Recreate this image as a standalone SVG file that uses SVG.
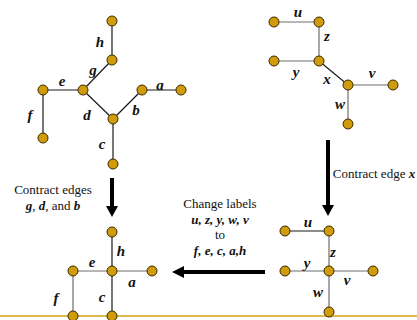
<svg xmlns="http://www.w3.org/2000/svg" width="417" height="320" viewBox="0 0 417 320">
<style>
.n{fill:#D19C0C;stroke:#3a2a00;stroke-width:1}
.eb{stroke:#1a1a1a;stroke-width:1.2;fill:none}
.eg{stroke:#6e6e6e;stroke-width:1.2;fill:none}
.l{font-family:'Liberation Serif','Times New Roman','DejaVu Serif',serif;font-size:15px;font-weight:bold;font-style:italic;text-anchor:middle;fill:#111}
.t{font-family:'Liberation Serif','Times New Roman','DejaVu Serif',serif;font-size:13px;text-anchor:middle;fill:#111}
.tb{font-weight:bold;font-style:italic}
.arr{stroke:#000;stroke-width:4;fill:none}
</style>
<rect width="417" height="320" fill="#fff"/>
<line x1="0" y1="316" x2="417" y2="316" stroke="#D4A017" stroke-width="1.5"/>
<g id="connectors">
<line class="eb" x1="112" y1="21" x2="112" y2="60"/>
<line class="eb" x1="112" y1="60" x2="83" y2="90"/>
<line class="eb" x1="43" y1="90" x2="83" y2="90"/>
<line class="eb" x1="43" y1="90" x2="43" y2="138"/>
<line class="eb" x1="83" y1="90" x2="113" y2="119"/>
<line class="eb" x1="113" y1="119" x2="142" y2="90"/>
<line class="eb" x1="142" y1="90" x2="181" y2="90"/>
<line class="eb" x1="113" y1="119" x2="113" y2="164"/>
<line class="eg" x1="274" y1="22" x2="319" y2="22"/>
<line class="eg" x1="319" y1="22" x2="319" y2="61"/>
<line class="eg" x1="274" y1="61" x2="319" y2="61"/>
<line class="eb" x1="319" y1="61" x2="348" y2="85"/>
<line class="eg" x1="348" y1="85" x2="393" y2="85"/>
<line class="eg" x1="348" y1="85" x2="348" y2="124"/>
<line class="eb" x1="112" y1="232" x2="112" y2="271"/>
<line class="eg" x1="73" y1="271" x2="152" y2="271"/>
<line class="eg" x1="73" y1="271" x2="73" y2="316"/>
<line class="eb" x1="112" y1="271" x2="112" y2="316"/>
<line class="eb" x1="285" y1="231" x2="329" y2="231"/>
<line class="eg" x1="329" y1="231" x2="329" y2="271"/>
<line class="eg" x1="285" y1="271" x2="373" y2="271"/>
<line class="eg" x1="329" y1="271" x2="329" y2="312"/>
<line class="arr" x1="112" y1="178" x2="112" y2="208"/>
<polygon points="106,206 118,206 112,217" fill="#000"/>
<line class="arr" x1="328" y1="140" x2="328" y2="207"/>
<polygon points="322,205 334,205 328,216" fill="#000"/>
<line class="arr" x1="265" y1="272" x2="182" y2="272"/>
<polygon points="184,266 184,278 172,272" fill="#000"/>
</g>
<g id="graph-top-left">
<circle class="n" cx="112" cy="21" r="5"/>
<circle class="n" cx="112" cy="60" r="5"/>
<circle class="n" cx="43" cy="90" r="5"/>
<circle class="n" cx="83" cy="90" r="5"/>
<circle class="n" cx="142" cy="90" r="5"/>
<circle class="n" cx="181" cy="90" r="5"/>
<circle class="n" cx="113" cy="119" r="5"/>
<circle class="n" cx="43" cy="138" r="5"/>
<circle class="n" cx="113" cy="164" r="5"/>
<text class="l" x="100" y="47">h</text>
<text class="l" x="93" y="75">g</text>
<text class="l" x="62" y="86">e</text>
<text class="l" x="30" y="120">f</text>
<text class="l" x="87" y="120">d</text>
<text class="l" x="136" y="115">b</text>
<text class="l" x="160" y="90">a</text>
<text class="l" x="102" y="149">c</text>
</g>
<g id="graph-top-right">
<circle class="n" cx="274" cy="22" r="5"/>
<circle class="n" cx="319" cy="22" r="5"/>
<circle class="n" cx="274" cy="61" r="5"/>
<circle class="n" cx="319" cy="61" r="5"/>
<circle class="n" cx="348" cy="85" r="5"/>
<circle class="n" cx="393" cy="85" r="5"/>
<circle class="n" cx="348" cy="124" r="5"/>
<text class="l" x="298" y="17">u</text>
<text class="l" x="327" y="41">z</text>
<text class="l" x="296" y="77">y</text>
<text class="l" x="327" y="84">x</text>
<text class="l" x="372" y="78">v</text>
<text class="l" x="340" y="109">w</text>
</g>
<g id="graph-bottom-left">
<circle class="n" cx="112" cy="232" r="5"/>
<circle class="n" cx="73" cy="271" r="5"/>
<circle class="n" cx="112" cy="271" r="5"/>
<circle class="n" cx="152" cy="271" r="5"/>
<circle class="n" cx="73" cy="316" r="5"/>
<circle class="n" cx="112" cy="316" r="5"/>
<text class="l" x="121" y="256">h</text>
<text class="l" x="92" y="267">e</text>
<text class="l" x="132" y="287">a</text>
<text class="l" x="56" y="303">f</text>
<text class="l" x="102" y="302">c</text>
</g>
<g id="graph-bottom-right">
<circle class="n" cx="285" cy="231" r="5"/>
<circle class="n" cx="329" cy="231" r="5"/>
<circle class="n" cx="285" cy="271" r="5"/>
<circle class="n" cx="329" cy="271" r="5"/>
<circle class="n" cx="373" cy="271" r="5"/>
<circle class="n" cx="329" cy="312" r="5"/>
<text class="l" x="308" y="227">u</text>
<text class="l" x="333" y="257">z</text>
<text class="l" x="307" y="268">y</text>
<text class="l" x="347" y="285">v</text>
<text class="l" x="318" y="297">w</text>
</g>
<g id="label-contract-edges">
<text class="t" x="53" y="194">Contract edges</text>
<text class="t" x="53" y="210"><tspan class="tb">g</tspan>, <tspan class="tb">d</tspan>, and <tspan class="tb">b</tspan></text>
</g>
<g id="label-contract-x">
<text class="t" x="374" y="178">Contract edge <tspan class="tb">x</tspan></text>
</g>
<g id="label-change">
<text class="t" x="220" y="208">Change labels</text>
<text class="t tb" x="220" y="224">u, z, y, w, v</text>
<text class="t" x="220" y="239">to</text>
<text class="t tb" x="220" y="255">f, e, c, a,h</text>
</g>
</svg>
